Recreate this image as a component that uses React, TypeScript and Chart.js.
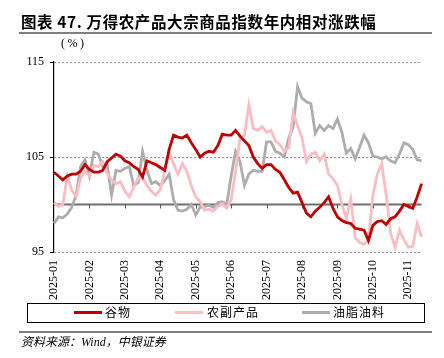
import React, { useEffect, useRef } from "react";
import { Chart, registerables } from "chart.js";

Chart.register(...registerables);

const tickMonths = [
  "2025-01", "2025-02", "2025-03", "2025-04", "2025-05", "2025-06",
  "2025-07", "2025-08", "2025-09", "2025-10", "2025-11",
];
const pointsPerMonth = 8;

const grain = [
  103.4, 103.0, 102.6, 103.0, 103.2, 103.2, 103.5, 104.2, 103.7, 103.4,
  103.4, 103.6, 104.5, 104.9, 105.3, 105.1, 104.6, 104.4, 104.0, 103.7,
  102.9, 104.6, 104.4, 104.2, 103.9, 103.6, 105.8, 107.3, 107.1, 107.0,
  107.3, 106.5, 105.8, 105.0, 105.4, 105.6, 105.5, 106.2, 107.4, 107.3,
  107.3, 107.8, 107.2, 106.7, 106.2, 105.0, 104.3, 103.8, 104.2, 104.2,
  103.7, 103.4, 102.6, 101.8, 101.2, 101.3, 100.2, 99.1, 98.7, 99.3,
  99.7, 100.2, 100.8, 99.6, 98.7, 98.3, 98.1, 98.0, 97.5, 97.4,
  97.3, 96.2, 97.8, 98.2, 98.3, 97.9, 98.5, 98.7, 99.3, 100.0,
  99.8, 99.6, 100.8, 102.2,
];

const agriByproducts = [
  100.2, 99.8, 100.0, 103.0, 101.5, 100.8, 102.8, 103.5, 103.0, 104.1,
  104.0, 104.5, 103.3, 102.6, 102.2, 102.4, 101.4, 100.8, 101.8, 102.8,
  102.8, 102.0, 101.4, 101.0, 101.6, 103.5, 105.4, 104.3, 103.2, 104.3,
  103.5, 102.0, 100.8, 100.3, 99.4, 99.5, 99.3, 99.8, 100.1, 99.6,
  100.5, 103.5, 107.0, 107.3, 110.5, 108.0, 107.8, 108.2, 107.6, 107.8,
  106.7, 106.3, 105.6, 106.0, 109.7, 108.3, 107.0, 104.5, 105.3, 105.5,
  104.6, 105.3, 103.2, 102.7, 102.0, 100.0, 98.6, 100.6, 96.5, 96.0,
  95.8, 96.3, 101.0, 103.2, 104.3, 101.0, 97.0, 95.5, 97.3, 96.3,
  95.5, 95.6, 98.0, 96.6,
];

const oilseeds = [
  98.0, 98.7, 98.6, 99.0, 99.7, 101.0, 104.0, 104.7, 103.0, 105.5,
  105.3, 104.0, 104.2, 101.0, 103.6, 103.5, 103.8, 104.0, 102.0, 102.3,
  105.6, 103.6, 102.2, 102.4, 102.0, 102.5, 103.2, 100.5, 99.4, 99.3,
  99.5, 100.0, 98.9, 99.7, 99.8, 99.9, 99.7, 100.2, 100.3, 100.0,
  103.0, 105.6, 104.5, 102.0, 103.2, 103.6, 103.5, 103.5, 106.6, 106.6,
  105.6, 105.4, 105.0, 107.0, 108.2, 112.4, 111.2, 110.8, 110.6, 107.5,
  108.3, 107.8, 108.3, 108.0, 109.0, 107.6, 105.4, 105.9, 104.8, 106.0,
  107.3, 106.5, 105.1, 105.0, 104.8, 105.0, 104.6, 104.4, 105.3, 106.5,
  106.3, 105.8, 104.7, 104.6,
];

const seriesNames = ["谷物", "农副产品", "油脂油料"];
const seriesColors = ["#C00000", "#F9BDC3", "#ADADAD"];

const categories = grain.map((_, i) =>
  i % pointsPerMonth === 0 ? tickMonths[i / pointsPerMonth] : ""
);

const serif = '"Liberation Serif", "Noto Sans CJK SC", serif';

const baselinePlugin = {
  id: "baseline100",
  beforeDatasetsDraw(chart: any) {
    const { ctx, chartArea, scales } = chart;
    const y = scales.y.getPixelForValue(100);
    ctx.save();
    ctx.strokeStyle = "#6e6e6e";
    ctx.lineWidth = 2;
    ctx.beginPath();
    ctx.moveTo(chartArea.left, y);
    ctx.lineTo(chartArea.right, y);
    ctx.stroke();
    ctx.lineWidth = 1;
    ctx.strokeStyle = "#555";
    categories.forEach((c, i) => {
      if (c && i > 0) {
        const x = Math.round(scales.x.getPixelForValue(i)) + 0.5;
        ctx.beginPath();
        ctx.moveTo(x, y);
        ctx.lineTo(x, y + 4);
        ctx.stroke();
      }
    });
    ctx.restore();
  },
};

function ChartCanvas() {
  const ref = useRef<HTMLCanvasElement | null>(null);
  useEffect(() => {
    if (!ref.current) return;
    const data = [grain, agriByproducts, oilseeds];
    const chart = new Chart(ref.current, {
      type: "line",
      data: {
        labels: categories,
        datasets: data.map((d, k) => ({
          label: seriesNames[k],
          data: d,
          borderColor: seriesColors[k],
          backgroundColor: seriesColors[k],
          borderWidth: 2.8,
          pointRadius: 0,
          tension: 0,
          fill: false,
        })),
      },
      options: {
        responsive: false,
        animation: false,
        devicePixelRatio: 1,
        layout: { padding: { left: 0, top: 62, right: 17, bottom: 56 } },
        plugins: {
          legend: { display: false },
          tooltip: { enabled: false },
        },
        scales: {
          x: {
            type: "category",
            offset: false,
            grid: { display: false, drawTicks: false },
            border: { display: false },
            ticks: {
              autoSkip: false,
              maxRotation: 90,
              minRotation: 90,
              padding: 8,
              color: "#000",
              font: { family: serif, size: 12 },
              callback: (_v: any, i: number) => categories[i],
            },
            afterFit: (s: any) => {
              s.height = 50;
            },
          },
          y: {
            min: 95,
            max: 115,
            ticks: {
              stepSize: 10,
              padding: 6,
              color: "#000",
              font: { family: serif, size: 12 },
            },
            grid: {
              color: "#8a8a8a",
              lineWidth: 1,
              tickLength: 4,
              tickColor: "#000",
              drawTicks: true,
            },
            border: { display: true, color: "#000", width: 1.2, dash: [2, 2] },
            afterFit: (s: any) => {
              s.width = 54;
            },
          },
        },
      },
      plugins: [baselinePlugin],
    } as any);
    return () => chart.destroy();
  }, []);
  return (
    <canvas
      ref={ref}
      width={444}
      height={358}
      style={{ position: "absolute", left: 0, top: 0, width: 444, height: 358 }}
    />
  );
}

export default function App() {
  const legendX = [[74, 105], [175, 207], [302, 333]];
  return (
    <div
      style={{
        position: "absolute",
        left: 0,
        top: 0,
        width: 444,
        height: 358,
        background: "#fff",
        overflow: "hidden",
      }}
    >
      <ChartCanvas />
      <div
        style={{
          position: "absolute",
          left: 21,
          top: 11,
          fontFamily: '"Noto Sans CJK SC", sans-serif',
          fontWeight: 700,
          fontSize: 15.5,
          lineHeight: "20px",
          letterSpacing: 0.6,
          whiteSpace: "nowrap",
          color: "#000",
        }}
      >
        图表 47. 万得农产品大宗商品指数年内相对涨跌幅
      </div>
      <div style={{ position: "absolute", left: 19, top: 32, width: 413, height: 2, background: "#7f7f7f" }} />
      <div
        style={{
          position: "absolute",
          left: 61,
          top: 36,
          fontFamily: serif,
          fontSize: 12,
          letterSpacing: 2.5,
          lineHeight: "14px",
          color: "#000",
        }}
      >
        (%)
      </div>
      <div
        style={{
          position: "absolute",
          left: 27,
          top: 303,
          width: 396,
          height: 18,
          border: "1px solid #000",
        }}
      />
      {seriesNames.map((n, k) => (
        <React.Fragment key={n}>
          <div
            style={{
              position: "absolute",
              left: legendX[k][0],
              top: 311,
              width: 28,
              height: 3,
              background: seriesColors[k],
            }}
          />
          <div
            style={{
              position: "absolute",
              left: legendX[k][1],
              top: 305,
              fontFamily: serif,
              fontSize: 12,
              lineHeight: "16px",
              letterSpacing: 1,
              whiteSpace: "nowrap",
              color: "#000",
            }}
          >
            {n}
          </div>
        </React.Fragment>
      ))}
      <div style={{ position: "absolute", left: 19, top: 331, width: 413, height: 2, background: "#7f7f7f" }} />
      <div
        style={{
          position: "absolute",
          left: 21,
          top: 334,
          fontFamily: serif,
          fontStyle: "italic",
          fontSize: 12,
          lineHeight: "16px",
          whiteSpace: "nowrap",
          color: "#000",
        }}
      >
        资料来源：Wind，中银证券
      </div>
    </div>
  );
}
